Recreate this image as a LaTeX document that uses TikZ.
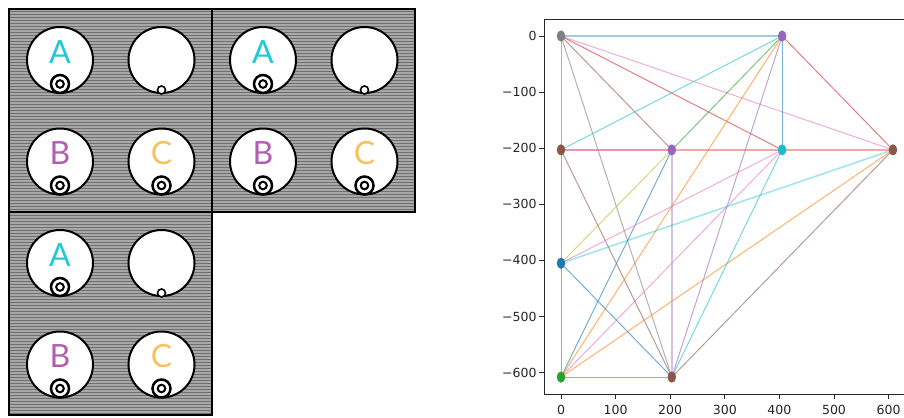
\documentclass[tikz,border=0pt]{standalone}
\usepackage{fontspec}
\setmainfont{DejaVu Sans}
\newfontfamily\letterfont{Lato}
\usepackage{tikz}
\usetikzlibrary{shapes.geometric}
\definecolor{tabblue}{HTML}{1F77B4}
\definecolor{taborange}{HTML}{FF7F0E}
\definecolor{tabgreen}{HTML}{2CA02C}
\definecolor{tabred}{HTML}{D62728}
\definecolor{tabpurple}{HTML}{9467BD}
\definecolor{tabbrown}{HTML}{8C564B}
\definecolor{tabpink}{HTML}{E377C2}
\definecolor{tabgray}{HTML}{7F7F7F}
\definecolor{tabolive}{HTML}{BCBD22}
\definecolor{tabcyan}{HTML}{17BECF}
\definecolor{letterA}{HTML}{22C8D2}
\definecolor{letterB}{HTML}{B45CB0}
\definecolor{letterC}{HTML}{F7C25E}
\definecolor{platebg}{HTML}{707070}
\definecolor{platestripe}{HTML}{A8A8A8}

\begin{document}
\begin{tikzpicture}[x=0.75pt,y=-0.75pt,
    well/.style={draw=black, line width=1.5pt, fill=white},
    ring/.style={draw=black, line width=1.9pt, fill=white},
    notch/.style={draw=black, line width=1.2pt, fill=white},
    welltext/.style={font=\letterfont\fontsize{24}{24}\selectfont, inner sep=0pt},
    edge/.style={line width=0.75pt, opacity=0.6},
    wide/.style={line width=1.2pt, opacity=0.4},
    vtx/.style={ellipse, inner sep=0pt, minimum width=6.4pt, minimum height=8.4pt},
    ticklbl/.style={font=\fontsize{9.4}{11}\selectfont, text=black!85, inner sep=0pt}]
  \useasboundingbox (0,0) rectangle (904,418);

  % Plates (striped background)
  \fill[platebg] (9,9) -- (414,9) -- (414,212) -- (212,212) -- (212,414) -- (9,414) -- cycle;
  \begin{scope}
    \clip (9,9) -- (414,9) -- (414,212) -- (212,212) -- (212,414) -- (9,414) -- cycle;
    \foreach \yy in {10,13,...,414}
      \draw[platestripe, line width=0.8pt] (9,\yy) -- (414,\yy);
  \end{scope}

  % Wells of each plate
  \foreach \tx/\ty in {0/0, 203/0, 0/203} {
    \begin{scope}[shift={(\tx,\ty)}]
      \draw[line width=1.6pt] (9,9) rectangle (212,212);
      \draw[well] (60,60) circle (33);
      \draw[well] (161.5,60) circle (33);
      \draw[well] (60,161.5) circle (33);
      \draw[well] (161.5,161.5) circle (33);
      % rings and notch
      \draw[ring] (60,84) circle (9);
      \draw[ring, line width=1.5pt] (60,84) circle (3.8);
      \draw[ring] (60,185.5) circle (9);
      \draw[ring, line width=1.5pt] (60,185.5) circle (3.8);
      \draw[ring] (161.5,185.5) circle (9);
      \draw[ring, line width=1.5pt] (161.5,185.5) circle (3.8);
      \draw[notch] (161.5,90) circle (4);
      % labels
      \node[welltext, text=letterA] (A-\tx-\ty) at (60,52) {A};
      \node[welltext, text=letterB] (B-\tx-\ty) at (60,153.5) {B};
      \node[welltext, text=letterC] (C-\tx-\ty) at (161.5,153.5) {C};
    \end{scope}
  }

  % Graph of the wells
  \begin{scope}[shift={(561,36)}, x={(0.4095pt,0pt)}, y={(0pt,0.42075pt)}]
    % Axes
    \draw[black!85, line width=0.75pt] (628,30.3) -- (-30.4,30.3) -- (-30.4,-638.7) -- (628,-638.7);
    \foreach \v in {0,100,...,600} {
      \draw[black!85, line width=0.6pt] (\v,-638.7) -- ++(0pt,-3.75pt);
      \node[ticklbl, anchor=north] (xt\v) at (\v,-638.7) [yshift=-7.6pt] {\v};
      \draw[black!85, line width=0.6pt] (-30.4,-\v) -- ++(-3.75pt,0pt);
      \node[ticklbl, anchor=east] (yt\v) at (-30.4,-\v) [xshift=-5.7pt] {\ifnum\v=0 0\else −\v\fi};
    }

    % Vertices
    \coordinate (p1) at (0,0);
    \coordinate (p2) at (405,0);
    \coordinate (p3) at (0,-203);
    \coordinate (p4) at (203,-203);
    \coordinate (p5) at (405,-203);
    \coordinate (p6) at (608,-203);
    \coordinate (p7) at (0,-405);
    \coordinate (p8) at (0,-608);
    \coordinate (p9) at (203,-608);

    % Edges
    \draw[wide, tabblue] (p1) -- (p2);
    \draw[edge, tabpink] (p1) -- (p6);
    \draw[edge, tabred] (p1) -- (p5);
    \draw[edge, tabbrown] (p1) -- (p4);
    \draw[edge, tabpurple] (p1) -- (p3);
    \draw[edge, tabgray] (p1) -- (p9);
    \draw[edge, tabcyan] (p3) -- (p2);
    \draw[wide, tabred] (p3) -- (p6);
    \draw[wide, tabpink] (p3) -- (p4);
    \draw[edge, tabgreen] (p3) -- (p8);
    \draw[edge, tabbrown] (p3) -- (p9);
    \draw[edge, tabgreen] (p4) -- (p2);
    \draw[edge, tabolive] (p4) -- (p7);
    \draw[edge, tabblue] (p4) -- (p8);
    \draw[wide, tabpurple] (p4) -- (p9);
    \draw[edge, taborange] (p2) -- (p8);
    \draw[edge, tabpurple] (p2) -- (p9);
    \draw[edge, tabblue] (p2) -- (p5);
    \draw[edge, tabred] (p2) -- (p6);
    \draw[edge, tabpink] (p5) -- (p7);
    \draw[edge, tabpink] (p5) -- (p8);
    \draw[edge, tabcyan] (p5) -- (p9);
    \draw[wide, tabcyan] (p6) -- (p7);
    \draw[edge, taborange] (p6) -- (p8);
    \draw[edge, tabbrown] (p6) -- (p9);
    \draw[edge, tabblue] (p7) -- (p9);
    \draw[edge, tabgreen] (p8) -- (p9);

    % Markers
    \node[vtx, fill=tabgray] (m1) at (p1) {};
    \node[vtx, fill=tabpurple] (m2) at (p2) {};
    \node[vtx, fill=tabbrown] (m3) at (p3) {};
    \node[vtx, fill=tabpurple] (m4) at (p4) {};
    \node[vtx, fill=tabcyan] (m5) at (p5) {};
    \node[vtx, fill=tabbrown] (m6) at (p6) {};
    \node[vtx, fill=tabblue] (m7) at (p7) {};
    \node[vtx, fill=tabgreen] (m8) at (p8) {};
    \node[vtx, fill=tabbrown] (m9) at (p9) {};
  \end{scope}
\end{tikzpicture}
\end{document}
